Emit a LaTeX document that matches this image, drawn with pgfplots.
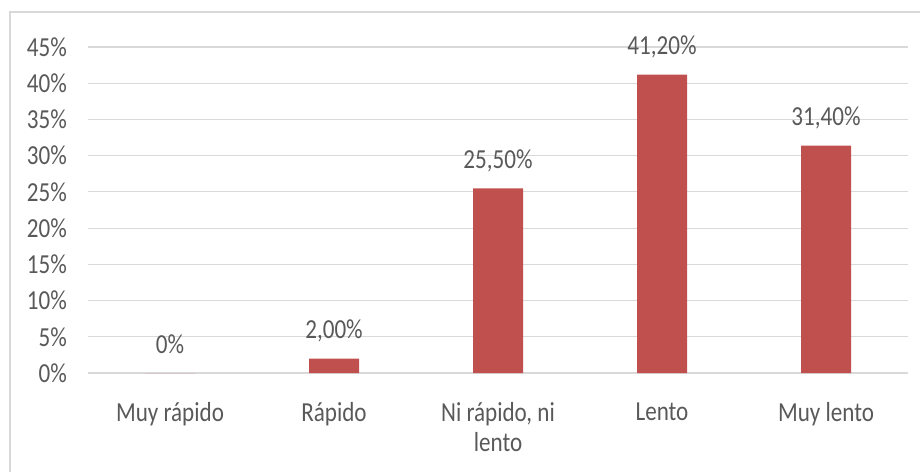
\documentclass[border=0pt]{standalone}
\usepackage{fontspec}
\setmainfont[FakeStretch=0.84]{Carlito}
\usepackage{pgfplots}
\pgfplotsset{compat=1.18}
\definecolor{barred}{HTML}{C0504D}
\definecolor{txt}{HTML}{595959}
\definecolor{gridc}{HTML}{D9D9D9}
\definecolor{framec}{HTML}{D9D9D9}
\begin{document}
\begin{tikzpicture}
\useasboundingbox (0,0) rectangle (920bp,472bp);
\draw[framec, line width=2.5bp] (10bp,-10bp) -- (10bp,460bp) -- (940bp,460bp);
\begin{axis}[
  at={(88bp,99bp)}, anchor=south west,
  scale only axis, width=820bp, height=326bp,
  xmin=-0.5, xmax=4.5, ymin=0, ymax=45,
  axis line style={draw=none},
  major tick style={draw=none},
  ymajorgrids, grid style={gridc, line width=1.2bp},
  ytick={0,5,10,15,20,25,30,35,40,45},
  yticklabels={0\%,5\%,10\%,15\%,20\%,25\%,30\%,35\%,40\%,45\%},
  yticklabel style={anchor=east, inner sep=0pt, xshift=-21bp, text=txt, font=\fontsize{27.5bp}{34bp}\selectfont},
  xtick={0,1,2,3,4},
  xticklabels={Muy rápido, Rápido, {Ni rápido, ni\\[-4bp]lento}, Lento, Muy lento},
  xticklabel style={anchor=north, align=center, inner sep=0pt, yshift=-25bp, text=txt, font=\fontsize{27.5bp}{34bp}\selectfont},
  ybar, bar width=50bp,
  nodes near coords, point meta=explicit symbolic,
  every node near coord/.append style={anchor=base, inner sep=0pt, yshift=20bp, text=txt, font=\fontsize{27.5bp}{34bp}\selectfont},
  clip=false,
]
\addplot[fill=barred, draw=none] coordinates {
  (0,0) [0\%]
  (1,2.0) [{2,00\%}]
  (2,25.5) [{25,50\%}]
  (3,41.2) [{41,20\%}]
  (4,31.4) [{31,40\%}]
};
\end{axis}
\end{tikzpicture}
\end{document}
